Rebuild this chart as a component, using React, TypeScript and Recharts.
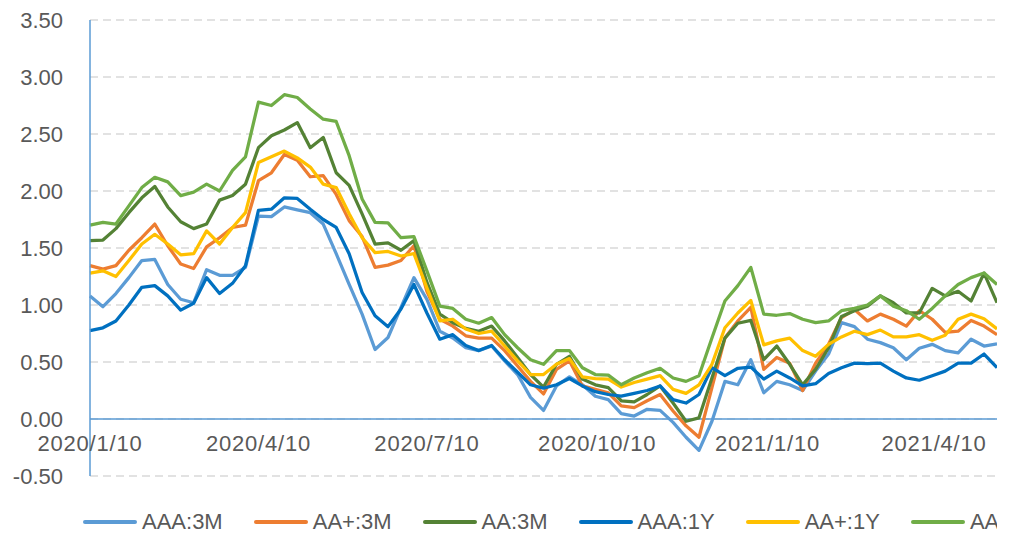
import { LineChart, Line, XAxis, YAxis, CartesianGrid, ReferenceLine, Legend } from "recharts";

// weekly observation dates
const dates = [
  "2020-01-10", "2020-01-17", "2020-01-24", "2020-01-31", "2020-02-07", "2020-02-14", "2020-02-21", "2020-02-28",
  "2020-03-06", "2020-03-13", "2020-03-20", "2020-03-27", "2020-04-03", "2020-04-10", "2020-04-17", "2020-04-24",
  "2020-05-01", "2020-05-08", "2020-05-15", "2020-05-22", "2020-05-29", "2020-06-05", "2020-06-12", "2020-06-19",
  "2020-06-26", "2020-07-03", "2020-07-10", "2020-07-17", "2020-07-24", "2020-07-31", "2020-08-07", "2020-08-14",
  "2020-08-21", "2020-08-28", "2020-09-04", "2020-09-11", "2020-09-18", "2020-09-25", "2020-10-02", "2020-10-09",
  "2020-10-16", "2020-10-23", "2020-10-30", "2020-11-06", "2020-11-13", "2020-11-20", "2020-11-27", "2020-12-04",
  "2020-12-11", "2020-12-18", "2020-12-25", "2021-01-01", "2021-01-08", "2021-01-15", "2021-01-22", "2021-01-29",
  "2021-02-05", "2021-02-12", "2021-02-19", "2021-02-26", "2021-03-05", "2021-03-12", "2021-03-19", "2021-03-26",
  "2021-04-02", "2021-04-09", "2021-04-16", "2021-04-23", "2021-04-30", "2021-05-07", "2021-05-14",
];

const aaa3m = [
  1.08, 0.985, 1.1, 1.24, 1.39, 1.4, 1.18, 1.05, 1.02, 1.31, 1.26, 1.26, 1.33, 1.78, 1.775, 1.86,
  1.835, 1.81, 1.71, 1.45, 1.18, 0.92, 0.61, 0.715, 0.98, 1.24, 1.05, 0.77, 0.71, 0.625, 0.6, 0.64,
  0.51, 0.39, 0.19, 0.075, 0.29, 0.37, 0.3, 0.2, 0.17, 0.047, 0.026, 0.085, 0.076, -0.03, -0.16, -0.275,
  -0.02, 0.33, 0.3, 0.52, 0.23, 0.33, 0.3, 0.25, 0.42, 0.57, 0.845, 0.81, 0.7, 0.67, 0.625, 0.52,
  0.62, 0.655, 0.6, 0.58, 0.7, 0.64, 0.66,
];
const aaPlus3m = [
  1.345, 1.315, 1.345, 1.48, 1.59, 1.71, 1.52, 1.36, 1.32, 1.51, 1.59, 1.68, 1.7, 2.09, 2.16, 2.32,
  2.27, 2.125, 2.135, 1.97, 1.74, 1.6, 1.33, 1.35, 1.39, 1.52, 1.12, 0.875, 0.815, 0.73, 0.71, 0.71,
  0.6, 0.465, 0.33, 0.22, 0.435, 0.51, 0.29, 0.26, 0.23, 0.115, 0.1, 0.16, 0.215, 0.07, -0.06, -0.16,
  0.275, 0.71, 0.86, 0.98, 0.435, 0.54, 0.49, 0.25, 0.49, 0.655, 0.89, 0.96, 0.86, 0.92, 0.875, 0.815,
  0.95, 0.875, 0.76, 0.77, 0.865, 0.815, 0.74,
];
const aa3m = [
  1.565, 1.57, 1.67, 1.81, 1.94, 2.04, 1.86, 1.73, 1.67, 1.71, 1.92, 1.96, 2.06, 2.38, 2.485, 2.535,
  2.6, 2.38, 2.47, 2.16, 2.05, 1.8, 1.535, 1.545, 1.48, 1.565, 1.2, 0.92, 0.845, 0.795, 0.77, 0.815,
  0.685, 0.54, 0.39, 0.28, 0.48, 0.55, 0.35, 0.3, 0.275, 0.16, 0.15, 0.215, 0.29, 0.14, -0.02, 0.01,
  0.36, 0.71, 0.84, 0.865, 0.52, 0.64, 0.48, 0.3, 0.435, 0.625, 0.9, 0.95, 0.99, 1.08, 1.02, 0.93,
  0.93, 1.146, 1.08, 1.12, 1.035, 1.28, 1.02,
];
const aaa1y = [
  0.775, 0.8, 0.86, 1.0, 1.155, 1.17, 1.08, 0.955, 1.015, 1.24, 1.1, 1.19, 1.345, 1.83, 1.84, 1.94,
  1.935, 1.84, 1.75, 1.68, 1.45, 1.11, 0.905, 0.81, 0.965, 1.18, 0.93, 0.7, 0.74, 0.645, 0.6, 0.645,
  0.52, 0.41, 0.3, 0.27, 0.3, 0.355, 0.29, 0.24, 0.215, 0.2, 0.225, 0.25, 0.29, 0.17, 0.14, 0.215,
  0.45, 0.38, 0.445, 0.455, 0.35, 0.42, 0.36, 0.29, 0.31, 0.4, 0.45, 0.49, 0.485, 0.49, 0.42, 0.36,
  0.34, 0.38, 0.42, 0.49, 0.49, 0.57, 0.45,
];
const aaPlus1y = [
  1.28, 1.3, 1.25, 1.39, 1.535, 1.62, 1.535, 1.44, 1.45, 1.65, 1.535, 1.68, 1.81, 2.25, 2.3, 2.35,
  2.29, 2.21, 2.06, 2.03, 1.8, 1.59, 1.46, 1.47, 1.43, 1.45, 1.15, 0.86, 0.875, 0.79, 0.75, 0.77,
  0.64, 0.51, 0.39, 0.39, 0.48, 0.53, 0.37, 0.355, 0.35, 0.28, 0.32, 0.35, 0.38, 0.26, 0.225, 0.3,
  0.48, 0.8, 0.93, 1.04, 0.65, 0.685, 0.71, 0.6, 0.55, 0.655, 0.72, 0.77, 0.74, 0.78, 0.72, 0.72,
  0.74, 0.69, 0.735, 0.875, 0.92, 0.88, 0.79,
];
const aa1y = [
  1.7, 1.725, 1.71, 1.87, 2.03, 2.12, 2.08, 1.96, 1.99, 2.06, 2.0, 2.18, 2.3, 2.78, 2.75, 2.845,
  2.82, 2.72, 2.63, 2.61, 2.31, 1.93, 1.725, 1.72, 1.59, 1.6, 1.3, 0.99, 0.97, 0.875, 0.84, 0.89,
  0.74, 0.625, 0.52, 0.48, 0.6, 0.6, 0.45, 0.39, 0.385, 0.3, 0.36, 0.405, 0.445, 0.36, 0.33, 0.38,
  0.71, 1.035, 1.17, 1.33, 0.92, 0.91, 0.925, 0.875, 0.845, 0.86, 0.95, 0.97, 1.0, 1.08, 0.99, 0.95,
  0.875, 0.97, 1.08, 1.18, 1.24, 1.28, 1.18,
];

const xTickDates = ["2020-01-10", "2020-04-10", "2020-07-10", "2020-10-10", "2021-01-10", "2021-04-10"];
const xTickLabels = ["2020/1/10", "2020/4/10", "2020/7/10", "2020/10/10", "2021/1/10", "2021/4/10"];
const yTicks = [-0.5, 0, 0.5, 1, 1.5, 2, 2.5, 3, 3.5];

const series = [
  { key: "aaa3m", name: "AAA:3M", color: "#5B9BD5", values: aaa3m },
  { key: "aaPlus3m", name: "AA+:3M", color: "#ED7D31", values: aaPlus3m },
  { key: "aa3m", name: "AA:3M", color: "#548235", values: aa3m },
  { key: "aaa1y", name: "AAA:1Y", color: "#0070C0", values: aaa1y },
  { key: "aaPlus1y", name: "AA+:1Y", color: "#FFC000", values: aaPlus1y },
  { key: "aa1y", name: "AA:1Y", color: "#70AD47", values: aa1y },
];

const data = dates.map((d, i) => {
  const row: Record<string, number> = { t: Date.parse(d) };
  series.forEach((s) => (row[s.key] = s.values[i]));
  return row;
});

const xTicks = xTickDates.map((d) => Date.parse(d));
const TEXT = "#595959";
const AXIS = "#5B9BD5";

function XTick({ x, y, payload }: any) {
  const idx = xTicks.indexOf(payload.value);
  return (
    <text x={x} y={y - 33} dy="0.36em" textAnchor="middle" fill={TEXT} fontSize={22} letterSpacing={0.8}>
      {xTickLabels[idx]}
    </text>
  );
}

function LegendContent() {
  return (
    <div style={{ display: "flex", gap: 31, whiteSpace: "nowrap" }}>
      {series.map((s) => (
        <div key={s.key} style={{ display: "flex", alignItems: "center", height: 21 }}>
          <div style={{ width: 54, height: 4, borderRadius: 2, background: s.color, marginRight: 5 }} />
          <span style={{ fontSize: 22, color: TEXT, lineHeight: "21px" }}>{s.name}</span>
        </div>
      ))}
    </div>
  );
}

export default function App() {
  return (
    <div style={{ position: "absolute", left: 0, top: 0, width: 997, height: 535, overflow: "hidden", background: "#fff" }}>
      <LineChart
        width={997}
        height={535}
        data={data}
        margin={{ top: 20, right: 0, left: 0, bottom: 0 }}
        style={{ fontFamily: "'Liberation Sans', Arial, sans-serif" }}
      >
        <CartesianGrid vertical={false} stroke="#D9D9D9" strokeWidth={1.3} strokeDasharray="8 5" />
        <XAxis
          dataKey="t"
          type="number"
          domain={[xTicks[0], Date.parse(dates[dates.length - 1])]}
          ticks={xTicks}
          height={59}
          axisLine={false}
          tickLine={false}
          tickSize={0}
          tickMargin={0}
          tick={<XTick />}
          interval={0}
        />
        <YAxis
          type="number"
          domain={[-0.5, 3.5]}
          ticks={yTicks}
          width={90}
          axisLine={{ stroke: AXIS, strokeWidth: 1.5 }}
          tickLine={false}
          tickSize={0}
          tickMargin={27}
          tick={{ fill: TEXT, fontSize: 22 }}
          tickFormatter={(v: number) => v.toFixed(2)}
          interval={0}
        />
        <ReferenceLine y={0} stroke={AXIS} strokeWidth={1.5} />
        {series.map((s) => (
          <Line
            key={s.key}
            type="linear"
            dataKey={s.key}
            name={s.name}
            stroke={s.color}
            strokeWidth={3.25}
            strokeLinejoin="round"
            dot={false}
            isAnimationActive={false}
          />
        ))}
        <Legend
          layout="horizontal"
          verticalAlign="middle"
          content={<LegendContent />}
          wrapperStyle={{ left: 83, top: 511, width: 1200 }}
        />
      </LineChart>
    </div>
  );
}
